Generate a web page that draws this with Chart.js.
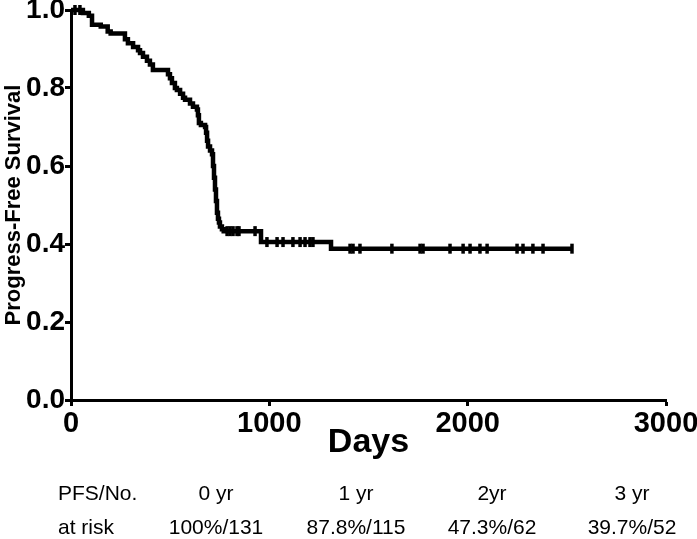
<!DOCTYPE html>
<html>
<head>
<meta charset="utf-8">
<script src="https://cdn.jsdelivr.net/npm/chart.js@4.4.1/dist/chart.umd.min.js"></script>
<style>
  body { margin: 0; background: #fff; }
  #wrap { position: relative; width: 697px; height: 539px; overflow: hidden; }
  .cell { position: absolute; font-family: 'Liberation Sans', Arial, sans-serif;
          font-size: 21px; line-height: 24px; color: #000; white-space: nowrap; }
  .mid { transform: translateX(-50%); }
</style>
</head>
<body>
<div id="wrap">
  <canvas id="kmChart" width="697" height="539"></canvas>
</div>
<script>
// Kaplan-Meier curve: days of events and survival after each step
const eventDays = [0, 60, 90, 106, 150, 185, 200, 272, 287, 313, 338, 348, 363, 383, 398, 413, 489, 499, 509, 524, 534, 550, 565, 575, 600, 615, 635, 640, 645, 655, 676, 681, 686, 691, 701, 711, 716, 721, 726, 731, 736, 741, 746, 751, 761, 770, 958, 1311, 2526];
const survival = [1.0, 0.992, 0.985, 0.962, 0.958, 0.945, 0.94, 0.925, 0.915, 0.905, 0.897, 0.89, 0.88, 0.87, 0.86, 0.846, 0.835, 0.825, 0.813, 0.80, 0.795, 0.785, 0.775, 0.77, 0.76, 0.752, 0.745, 0.73, 0.71, 0.705, 0.70, 0.685, 0.665, 0.65, 0.64, 0.63, 0.60, 0.57, 0.54, 0.51, 0.48, 0.465, 0.455, 0.445, 0.438, 0.433, 0.405, 0.388, 0.388];

// censored patients (tick marks)
const censorDays = [20, 45, 787, 802, 817, 837, 847, 928, 988, 1039, 1069, 1119, 1155, 1180, 1205, 1220, 1407, 1422, 1457, 1618, 1760, 1775, 1911, 1977, 2012, 2062, 2098, 2249, 2279, 2329, 2380, 2526];
const censorSurv = [1.0, 1.0, 0.433, 0.433, 0.433, 0.433, 0.433, 0.433, 0.405, 0.405, 0.405, 0.405, 0.405, 0.405, 0.405, 0.405, 0.388, 0.388, 0.388, 0.388, 0.388, 0.388, 0.388, 0.388, 0.388, 0.388, 0.388, 0.388, 0.388, 0.388, 0.388, 0.388];

// axis ticks
const xTicks = [0, 1000, 2000, 3000];
const yTicks = [0, 0.2, 0.4, 0.6, 0.8, 1.0];

// number at risk table
const tableHead = ['PFS/No.', '0 yr', '1 yr', '2yr', '3 yr'];
const tableRisk = ['at risk', '100%/131', '87.8%/115', '47.3%/62', '39.7%/52'];

const sans = "'Liberation Sans', Arial, sans-serif";

const curve = eventDays.map((d, i) => ({ x: d, y: survival[i] }));
const censored = censorDays.map((d, i) => ({ x: d, y: censorSurv[i] }));

const ctx = document.getElementById('kmChart').getContext('2d');
const kmChart = new Chart(ctx, {
    type: 'line',
    data: {
        datasets: [{
            data: curve,
            stepped: true,
            borderColor: '#000',
            borderWidth: 4.5,
            pointRadius: 0,
            clip: false
        }, {
            type: 'scatter',
            data: censored,
            pointStyle: 'line',
            rotation: 90,
            pointRadius: 5,
            borderColor: '#000',
            borderWidth: 3.5,
            clip: false
        }]
    },
    options: {
        responsive: false,
        animation: false,
        layout: { padding: { top: 10, right: 31, bottom: 69, left: 0 } },
        plugins: { legend: { display: false }, tooltip: { enabled: false } },
        scales: {
            x: {
                type: 'linear',
                min: 0,
                max: 3000,
                afterBuildTicks: (s) => { s.ticks = xTicks.map(v => ({ value: v })); },
                afterFit: (s) => { s.height = 70; s.paddingLeft = 0; s.paddingRight = 0; },
                border: { color: '#000', width: 3 },
                grid: { drawOnChartArea: false, tickLength: 6, tickWidth: 3, tickColor: '#000' },
                ticks: { color: '#000', padding: 1, maxRotation: 0, callback: (v) => String(v),
                         font: { family: sans, size: 29, weight: 'bold' } },
                title: { display: true, text: 'Days', color: '#000', padding: { top: 0, bottom: 7 },
                         font: { family: sans, size: 34, weight: 'bold' } }
            },
            y: {
                min: 0,
                max: 1.0,
                afterBuildTicks: (s) => { s.ticks = yTicks.map(v => ({ value: v })); },
                afterFit: (s) => { s.width = 71; s.paddingTop = 0; s.paddingBottom = 0; },
                border: { color: '#000', width: 3 },
                grid: { drawOnChartArea: false, tickLength: 6, tickWidth: 3, tickColor: '#000' },
                ticks: { color: '#000', padding: 0, callback: (v) => v.toFixed(1),
                         font: { family: sans, size: 28, weight: 'bold' } },
                title: { display: true, text: 'Progress-Free Survival', color: '#000', padding: { top: 1, bottom: 0 },
                         font: { family: sans, size: 22, weight: 'bold' } }
            }
        }
    }
});

// at-risk table below the chart
const wrap = document.getElementById('wrap');
const colX = [58, 216, 356, 492, 632];
const rowY = [481, 515];
[tableHead, tableRisk].forEach((row, r) => {
    row.forEach((txt, c) => {
        const el = document.createElement('div');
        el.className = 'cell' + (c > 0 ? ' mid' : '');
        el.style.left = colX[c] + 'px';
        el.style.top = rowY[r] + 'px';
        el.textContent = txt;
        wrap.appendChild(el);
    });
});
</script>
</body>
</html>
